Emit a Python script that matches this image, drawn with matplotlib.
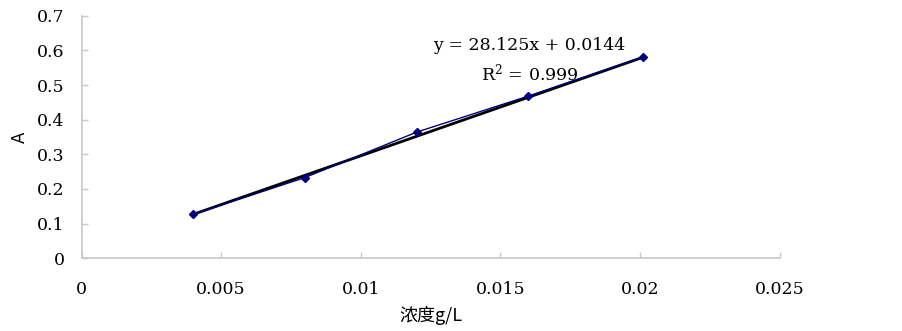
import matplotlib
matplotlib.use("Agg")
import matplotlib.pyplot as plt
import numpy as np

conc = [0.0040, 0.0080, 0.0120, 0.0160, 0.0201]   # 浓度 g/L
absorb = [0.127, 0.233, 0.364, 0.468, 0.581]      # A
slope = 28.125
intercept = 0.0144
r2 = 0.999

x_ticks = [0, 0.005, 0.01, 0.015, 0.02, 0.025]
x_labels = ["0", "0.005", "0.01", "0.015", "0.02", "0.025"]
y_ticks = [0, 0.1, 0.2, 0.3, 0.4, 0.5, 0.6, 0.7]
y_labels = ["0", "0.1", "0.2", "0.3", "0.4", "0.5", "0.6", "0.7"]

plt.rcParams['font.family'] = ['DejaVu Serif', 'Noto Sans CJK SC']
plt.rcParams['mathtext.fontset'] = 'dejavuserif'

fig = plt.figure(figsize=(9.03, 3.31), dpi=100)
ax = fig.add_axes([0.0903, 0.2196, 0.773, 0.733])

ax.plot(conc, absorb, color="#000080", lw=1, marker="D", ms=4.5, zorder=3)
xs = np.array([conc[0], conc[-1]])
ax.plot(xs, slope * xs + intercept, color="black", lw=2, zorder=2)

ax.set_xlim(0, 0.025)
ax.set_ylim(0, 0.7)
ax.set_xticks(x_ticks)
ax.set_xticklabels(x_labels)
ax.set_yticks(y_ticks)
ax.set_yticklabels(y_labels)

for s in ["top", "right"]:
    ax.spines[s].set_visible(False)
for s in ["left", "bottom"]:
    ax.spines[s].set_color("#c8c8c8")
    ax.spines[s].set_linewidth(1.2)
ax.tick_params(direction="in", length=4.5, width=1, color="#c8c8c8", labelsize=12.5)
ax.tick_params(axis="x", pad=16)
ax.tick_params(axis="y", pad=12)

ax.set_xlabel("浓度g/L", fontsize=13, labelpad=6, family=['Noto Sans CJK SC', 'DejaVu Serif'])
ax.set_ylabel("A", fontsize=12, labelpad=6, family=['DejaVu Sans'])

# trendline annotation, placed in figure coords
fig.text(529 / 903, 1 - 45 / 331, "y = %.3fx + %.4f" % (slope, intercept),
         fontsize=12.5, ha="center", va="center")
fig.text(530 / 903, 1 - 73 / 331, "R$^2$ = %.3f" % r2, fontsize=12.5, ha="center", va="center")

fig.savefig("out.png", dpi=100)
